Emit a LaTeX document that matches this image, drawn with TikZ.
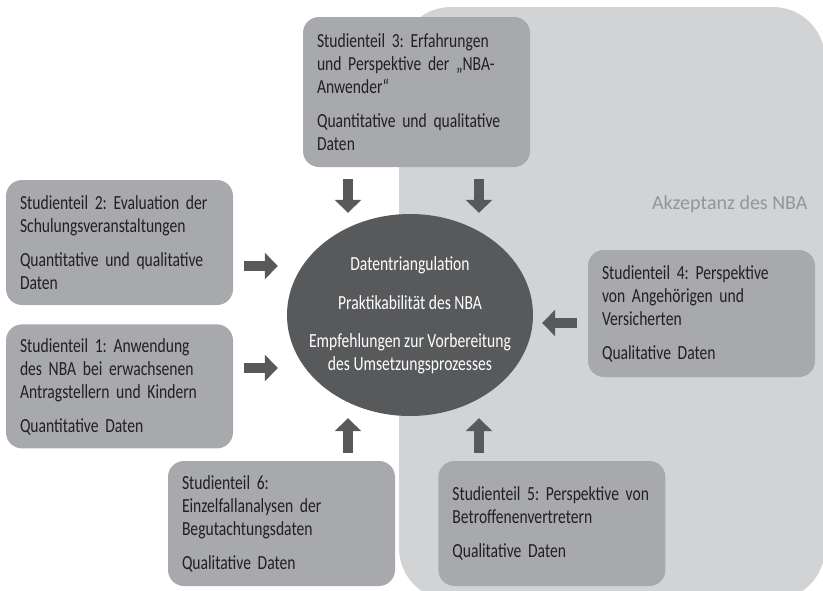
\documentclass[tikz,border=0pt]{standalone}
\usepackage{fontspec}
\setmainfont[FakeStretch=0.78]{Carlito}
\newfontfamily\widefont{Carlito}
\usepackage{xcolor}
\usetikzlibrary{arrows.meta,positioning,calc,shapes.geometric}
\definecolor{boxc}{HTML}{A7A9AC}
\definecolor{zonec}{HTML}{D1D3D4}
\definecolor{corec}{HTML}{58595B}
\definecolor{zonetextc}{HTML}{939598}
\definecolor{inkc}{HTML}{231F20}
\tikzset{
  part/.style={fill=boxc, rounded corners=16pt, text=inkc, align=left,
    text width=199pt, inner xsep=14pt, minimum height=125pt,
    font=\fontsize{20}{23}\selectfont\frenchspacing},
  core/.style={ellipse, fill=corec, inner sep=0pt,
    minimum width=246pt, minimum height=202pt},
  coretext/.style={text=white, align=center, inner sep=0pt,
    font=\fontsize{20}{23}\selectfont},
  flow/.style={corec, line width=10pt, -{Triangle[length=13pt,width=26pt]}},
  zone/.style={font=\widefont\fontsize{20}{24}\selectfont, text=zonetextc}}

\begin{document}
\begin{tikzpicture}[x=1pt, y=-1pt]
  \useasboundingbox (0,0) rectangle (823,590);
  \clip (0,0) rectangle (823,590);
  % ---- the acceptance area behind the right half
  \fill[zonec, rounded corners=52pt] (399,7) rectangle (825,600);
  \node[zone, anchor=base east] (acc) at (811,209) {Akzeptanz des NBA};
  % ---- centre: triangulation of the data
  \node[core] (core) at (410,315) {};
  \node[coretext] (coretxt) at (core.center)
    {Datentriangulation\\[16pt]
     Praktikabilit\"at des NBA\\[15pt]
     Empfehlungen zur Vorbereitung\\des Umsetzungsprozesses};
  % ---- the six parts of the study
  \node[part, minimum height=150pt] (s3) at (416.5,92)
    {Studienteil 3: Erfahrungen\\und Perspektive der „NBA-\\Anwender“\\[11pt]
     Quantitative und qualitative\\Daten};
  \node[part] (s2) at (119.5,242.5)
    {Studienteil 2: Evaluation der\\Schulungsveranstaltungen\\[11pt]
     Quantitative und qualitative\\Daten};
  \node[part, minimum height=124pt, below=19pt of s2] (s1)
    {Studienteil 1: Anwendung\\des NBA bei erwachsenen\\Antragstellern und Kindern\\[11pt]
     Quantitative Daten};
  \node[part, minimum height=127pt] (s4) at (701.5,313.5)
    {Studienteil 4: Perspektive\\von Angeh\"origen und\\Versicherten\\[11pt]
     Qualitative Daten};
  \node[part] (s6) at (281.5,523.5)
    {Studienteil 6:\\Einzelfallanalysen der\\Begutachtungsdaten\\[11pt]
     Qualitative Daten};
  \node[part, right=43pt of s6] (s5)
    {Studienteil 5: Perspektive von\\Betroffenenvertretern\\[11pt]
     Qualitative Daten};
  % ---- block arrows into the centre
  \draw[flow, shorten <=12pt, shorten >=1pt]
    ([xshift=-62pt]core.north |- s3.south) -- ([xshift=-62pt]core.north);
  \draw[flow, shorten <=12pt, shorten >=1pt]
    ([xshift=69pt]core.north |- s3.south) -- ([xshift=69pt]core.north);
  \draw[flow, shorten <=11pt, shorten >=9pt]
    ([yshift=49pt]core.center -| s2.east) -- ([yshift=49pt]core.center -| core.west);
  \draw[flow, shorten <=11pt, shorten >=9pt]
    ([yshift=-53pt]core.center -| s1.east) -- ([yshift=-53pt]core.center -| core.west);
  \draw[flow, shorten <=11pt, shorten >=9pt]
    ([yshift=-8pt]core.center -| s4.west) -- ([yshift=-8pt]core.center -| core.east);
  \draw[flow, shorten <=8pt, shorten >=2pt]
    ([xshift=-62pt]core.south |- s6.north) -- ([xshift=-62pt]core.south);
  \draw[flow, shorten <=8pt, shorten >=2pt]
    ([xshift=69pt]core.south |- s5.north) -- ([xshift=69pt]core.south);
\end{tikzpicture}
\end{document}
